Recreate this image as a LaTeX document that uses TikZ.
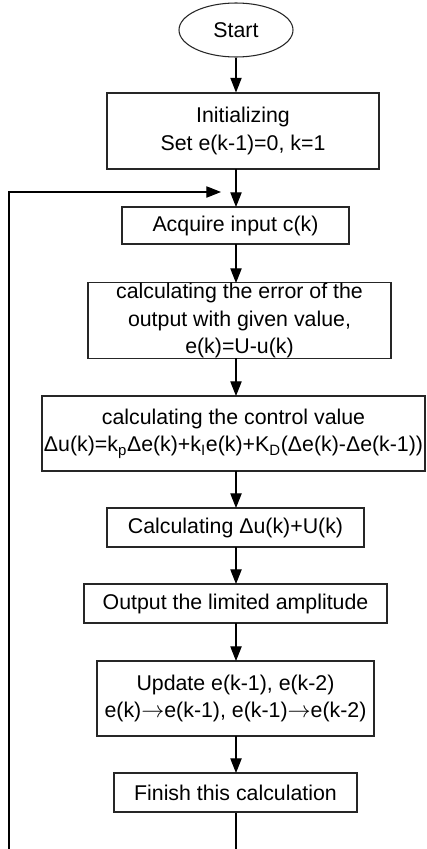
\documentclass[tikz,border=0pt]{standalone}
\usepackage{fontspec}
\setmainfont{Liberation Sans}
\usetikzlibrary{arrows.meta,shapes.geometric}
\begin{document}
\begin{tikzpicture}[x=0.75pt,y=-0.75pt,
  font=\fontsize{16pt}{20.8pt}\selectfont,
  box/.style={draw=black!85,line width=0.8pt,inner sep=0pt,align=center},
  arr/.style={line width=0.8pt,-{Triangle[length=11pt,width=8.5pt]}},
  ln/.style={line width=0.8pt}]
\useasboundingbox (0,0) rectangle (426,849);
\node[box,ellipse,minimum width=85.5pt,minimum height=40.5pt] (start) at (236,30) {Start};
\node[box,minimum width=204pt,minimum height=57pt] (init) at (243,131) {Initializing\\Set e(k-1)=0, k=1};
\node[box,minimum width=170.25pt,minimum height=27.75pt] (acq) at (235.5,225.5) {Acquire input c(k)};
\node[box,minimum width=227.25pt,minimum height=56.25pt] (err) at (239.5,320.5) {calculating the error of the\\output with given value,\\e(k)=U-u(k)};
\node[box,minimum width=287.25pt,minimum height=56.25pt] (ctrl) at (233.5,433.5) {calculating the control value\\{\spaceskip=0pt Δu(k)=k\textsubscript{p}Δe(k)+k\textsubscript{I}e(k)+K\textsubscript{D}(Δe(k)-Δe(k-1))}};
\node[box,minimum width=192.75pt,minimum height=29.25pt] (calc) at (235.5,527.5) {Calculating Δu(k)+U(k)};
\node[box,minimum width=227.25pt,minimum height=29.25pt] (outp) at (235.5,603.5) {Output the limited amplitude};
\node[box,minimum width=207.75pt,minimum height=56.25pt] (upd) at (235.5,698.5) {Update e(k-1), e(k-2)\\e(k)$\rightarrow$e(k-1), e(k-1)$\rightarrow$e(k-2)};
\node[box,minimum width=182.25pt,minimum height=29.25pt] (fin) at (235.5,792.5) {Finish this calculation};
\coordinate (loopin) at (221,192);
\coordinate (botL) at (9,849);
\coordinate (botR) at (236,849);
\draw[arr] (start.south) -- (start.south |- init.north);
\draw[arr] (236,169) -- (236,207);
\draw[arr] (236,244) -- (236,283);
\draw[arr] (236,358) -- (236,396);
\draw[arr] (236,471) -- (236,508);
\draw[arr] (236,547) -- (236,584);
\draw[arr] (236,623) -- (236,661);
\draw[arr] (236,736) -- (236,773);
\draw[ln] (fin.south -| botR) -- (botR);
\draw[arr] (botL) |- (loopin);
\end{tikzpicture}
\end{document}
